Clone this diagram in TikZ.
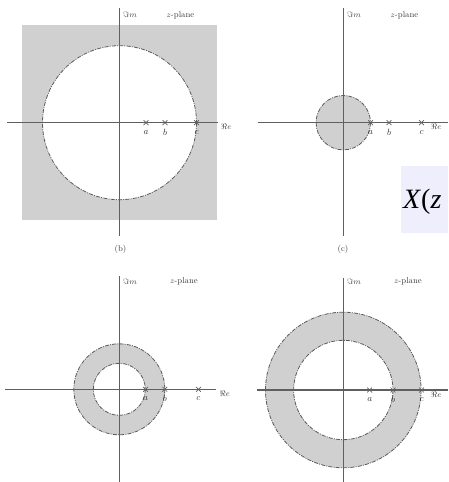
\documentclass[tikz,border=0pt]{standalone}
\usepackage{fontspec}
\newfontfamily\timesf{Liberation Serif}
\definecolor{regfill}{RGB}{208,208,208}
\definecolor{axcol}{RGB}{95,95,95}
\definecolor{circcol}{RGB}{90,90,90}
\definecolor{boxfill}{RGB}{238,238,252}
\tikzset{
  axis/.style={draw=axcol,line width=1.2pt},
  roc/.style={draw=circcol,line width=0.8pt,dash pattern=on 4pt off 1.2pt on 1pt off 1.2pt},
  pole/.style={inner sep=0pt,minimum size=0pt},
  polelabel/.style={font=\fontsize{9}{9}\selectfont\itshape,inner sep=0pt,text=black!80},
  axlabel/.style={font=\fontsize{8}{8}\selectfont,inner sep=0pt,text=black!75,anchor=west},
  planelabel/.style={font=\fontsize{8.5}{8.5}\selectfont,inner sep=0pt,text=black!75,anchor=west},
  panellabel/.style={font=\fontsize{8.5}{8.5}\selectfont,inner sep=0pt,text=black!75},
}
\newcommand{\polex}[2]{%
  \draw[draw=axcol,line width=0.7pt] ($(#1)+(-2.4,-2.4)$) -- ($(#1)+(2.4,2.4)$)
    ($(#1)+(-2.4,2.4)$) -- ($(#1)+(2.4,-2.4)$);
  \node[polelabel] at ($(#1)+(0,9.5)$) {#2};}
\usetikzlibrary{calc}
\begin{document}
\begin{tikzpicture}[x=1pt,y=-1pt]
\useasboundingbox (0,0) rectangle (448,482);
% ---------- Panel 1 (b) ----------
\coordinate (o1) at (119.5,122.7);
\fill[regfill] (22,25) rectangle (217,220);
\fill[white] (o1) circle (77);
\draw[roc] (o1) circle (77);
\coordinate (h1l) at (7,122.7);
\coordinate (h1r) at (218,122.7);
\coordinate (v1t) at (119.5,8);
\coordinate (v1b) at (119.5,236);
\draw[axis] (h1l) -- (h1r);
\draw[axis] (v1t) -- (v1b);
\coordinate (a1) at (146,122.7);
\coordinate (b1) at (165,122.7);
\coordinate (c1) at (196.5,122.7);
\polex{a1}{$a$}\polex{b1}{$b$}\polex{c1}{$c$}
\node[axlabel] (re1) at (221,127) {$\Re e$};
\node[axlabel] (im1) at (123,15) {$\Im m$};
\node[planelabel] (zp1) at (166.5,15) {$z$-plane};
\node[panellabel] (lb) at (120.5,249) {(b)};
% ---------- Panel 2 (c) ----------
\coordinate (o2) at (343.3,122.7);
\fill[regfill] (o2) circle (27.2);
\draw[roc] (o2) circle (27.2);
\coordinate (h2l) at (258,122.7);
\coordinate (h2r) at (448,122.7);
\coordinate (v2t) at (343.3,8);
\coordinate (v2b) at (343.3,236);
\draw[axis] (h2l) -- (h2r);
\draw[axis] (v2t) -- (v2b);
\coordinate (a2) at (370.5,122.7);
\coordinate (b2) at (389,122.7);
\coordinate (c2) at (421.5,122.7);
\polex{a2}{$a$}\polex{b2}{$b$}\polex{c2}{$c$}
\node[axlabel] (re2) at (431,127) {$\Re e$};
\node[axlabel] (im2) at (347,15) {$\Im m$};
\node[planelabel] (zp2) at (390.5,15) {$z$-plane};
\node[panellabel] (lc) at (343,249) {(c)};
% formula box
\fill[boxfill] (401,166) rectangle (448,233);
\node[anchor=base west,inner sep=0pt,font=\timesf\fontsize{28}{28}\selectfont] (xz) at (403,208) {\textit{X}(\textit{z}};
% ---------- Panel 3 ----------
\coordinate (o3) at (119.3,389.3);
\fill[regfill,even odd rule] (o3) circle (45.5) (o3) circle (26);
\draw[roc] (o3) circle (45.5);
\draw[roc] (o3) circle (26);
\coordinate (h3l) at (5,389.3);
\coordinate (h3r) at (216,389.3);
\coordinate (v3t) at (119.3,276);
\coordinate (v3b) at (119.3,482);
\draw[axis] (h3l) -- (h3r);
\draw[axis] (v3t) -- (v3b);
\coordinate (a3) at (145.5,389.3);
\coordinate (b3) at (164.8,389.3);
\coordinate (c3) at (198.5,389.3);
\polex{a3}{$a$}\polex{b3}{$b$}\polex{c3}{$c$}
\node[axlabel] (re3) at (219.5,394) {$\Re e$};
\node[axlabel] (im3) at (123,281.5) {$\Im m$};
\node[planelabel] (zp3) at (170,281.5) {$z$-plane};
% ---------- Panel 4 ----------
\coordinate (o4) at (343.3,390);
\fill[regfill,even odd rule] (o4) circle (77.8) (o4) circle (49.7);
\draw[roc] (o4) circle (77.8);
\draw[roc] (o4) circle (49.7);
\coordinate (h4l) at (257,390);
\coordinate (h4r) at (448,390);
\coordinate (v4t) at (343.3,278);
\coordinate (v4b) at (343.3,482);
\draw[axis] (h4l) -- (h4r);
\draw[axis] (v4t) -- (v4b);
\coordinate (a4) at (369.7,390);
\coordinate (b4) at (393,390);
\coordinate (c4) at (421.5,390);
\polex{a4}{$a$}\polex{b4}{$b$}\polex{c4}{$c$}
\node[axlabel] (re4) at (431,394.5) {$\Re e$};
\node[axlabel] (im4) at (347,281.5) {$\Im m$};
\node[planelabel] (zp4) at (394,281.5) {$z$-plane};
\end{tikzpicture}
\end{document}
